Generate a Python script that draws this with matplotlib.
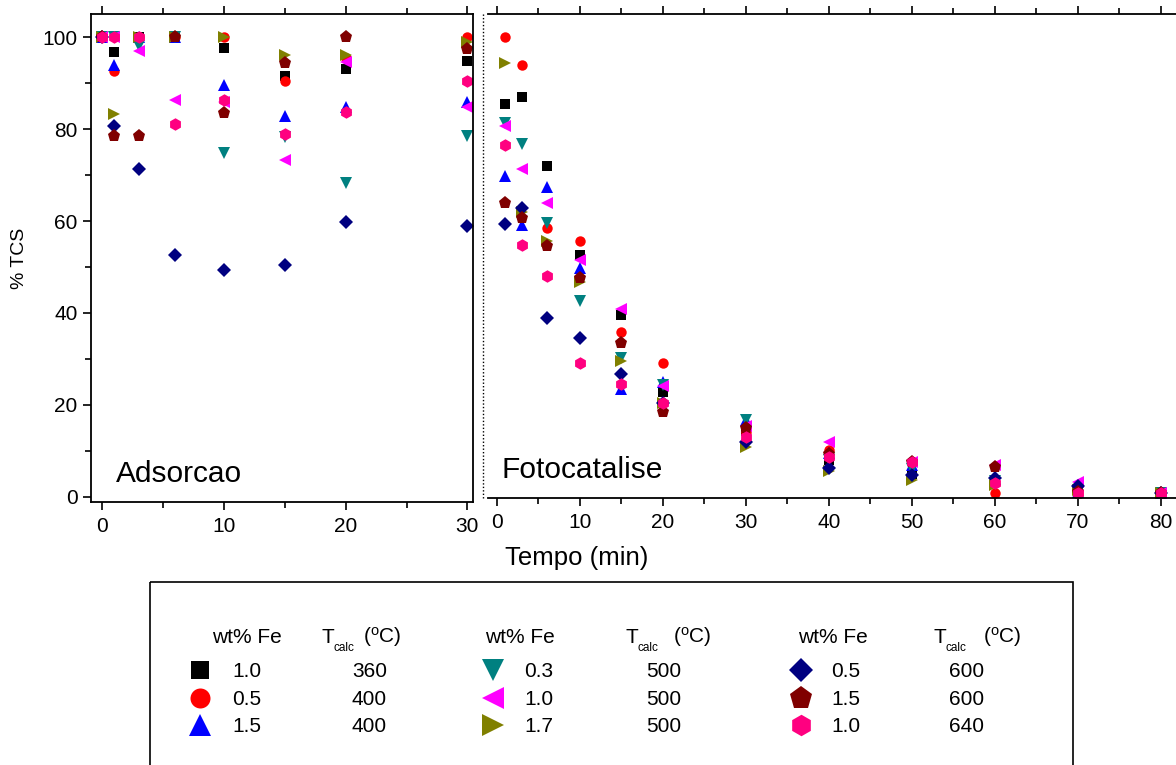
import matplotlib
matplotlib.use("Agg")
import matplotlib.pyplot as plt
from matplotlib.patches import Rectangle
from matplotlib.ticker import MultipleLocator

plt.rcParams["font.family"] = ["Liberation Sans", "DejaVu Sans"]
plt.rcParams["mathtext.fontset"] = "custom"
plt.rcParams["mathtext.rm"] = "Liberation Sans"

# tempos (min)
t_ads = [0, 1, 3, 6, 10, 15, 20, 30]
t_foto = [1, 3, 6, 10, 15, 20, 30, 40, 50, 60, 70, 80]

# amostras: wt% Fe, T calc
wt_fe = ["1.0", "0.5", "1.5", "0.3", "1.0", "1.7", "0.5", "1.5", "1.0"]
t_calc = ["360", "400", "400", "500", "500", "500", "600", "600", "640"]
cores = ["#000000", "#ff0000", "#0000ff", "#008080", "#ff00ff",
         "#808000", "#000080", "#800000", "#ff0080"]
marcadores = ["s", "o", "^", "v", "<", ">", "D", "p", "h"]

# % TCS - adsorcao
ads_1 = [100, 96.8, 100, 100, 97.6, 91.5, 93.2, 94.9]
ads_2 = [100, 92.6, 100, 100, 100, 90.4, 95.5, 100]
ads_3 = [100, 94.0, 100, 100, 89.7, 82.8, 84.8, 85.9]
ads_4 = [100, 100, 98.0, 100, 74.9, 78.3, 68.3, 78.5]
ads_5 = [100, 100, 97.1, 86.4, 86.0, 73.2, 94.6, 84.8]
ads_6 = [100, 83.2, 100, 100, 100, 96.1, 96.1, 98.9]
ads_7 = [100, 80.7, 71.4, 52.6, 49.3, 50.4, 59.9, 58.9]
ads_8 = [100, 78.5, 78.5, 100, 83.6, 94.3, 100, 97.5]
ads_9 = [100, 100, 100, 81.2, 86.4, 79.0, 83.8, 90.4]

# % TCS - fotocatalise
foto_1 = [85.5, 87.1, 71.9, 52.6, 39.6, 22.9, 14.4, 8.0, 5.0, 3.5, 1.5, 0.7]
foto_2 = [100, 94.0, 58.4, 55.7, 35.9, 29.0, 14.0, 10.2, 7.6, 0.7, 0.5, 0.7]
foto_3 = [69.9, 59.2, 67.5, 49.7, 23.5, 25.0, 16.8, 9.5, 6.8, 3.8, 1.0, 0.7]
foto_4 = [81.3, 76.7, 59.5, 42.5, 30.1, 24.3, 16.7, 8.0, 6.0, 3.5, 1.0, 0.7]
foto_5 = [80.7, 71.3, 63.9, 51.6, 40.8, 24.1, 15.3, 12.0, 7.5, 6.8, 3.2, 0.7]
foto_6 = [94.5, 62.0, 55.7, 46.8, 29.6, 20.4, 10.8, 5.5, 3.6, 2.5, 1.5, 0.7]
foto_7 = [59.3, 62.8, 38.8, 34.6, 26.7, 20.4, 12.0, 6.2, 4.7, 4.0, 2.4, 0.7]
foto_8 = [63.9, 60.6, 54.6, 47.7, 33.4, 18.5, 15.0, 9.2, 7.5, 6.4, 1.0, 0.7]
foto_9 = [76.5, 54.7, 48.1, 29.0, 24.5, 20.5, 12.9, 8.7, 7.6, 2.9, 0.7, 0.7]

ads = [ads_1, ads_2, ads_3, ads_4, ads_5, ads_6, ads_7, ads_8, ads_9]
foto = [foto_1, foto_2, foto_3, foto_4, foto_5, foto_6, foto_7, foto_8, foto_9]

# tamanhos dos marcadores (grafico / legenda)
ms_plot = {"s": 7.5, "o": 7.5, "^": 8.5, "v": 8.5, "<": 8.5, ">": 8.5,
           "D": 6.8, "p": 9.5, "h": 9.0}
ms_leg = {"s": 13.5, "o": 14.4, "^": 16.5, "v": 16.5, "<": 16, ">": 16,
          "D": 12.0, "p": 17.0, "h": 15.5}

W, H = 1176, 765
fig = plt.figure(figsize=(W / 100, H / 100), dpi=100)

ax1 = fig.add_axes([90.7 / W, 1 - 502 / H, (472.5 - 90.7) / W, (502 - 14.3) / H])
ax2 = fig.add_axes([488.3 / W, 1 - 498 / H, (1180 - 488.3) / W, (498 - 14.3) / H])

for i in range(9):
    m = marcadores[i]
    ax1.plot(t_ads, ads[i], ls="none", marker=m, ms=ms_plot[m],
             color=cores[i], mew=0)
    ax2.plot(t_foto, foto[i], ls="none", marker=m, ms=ms_plot[m],
             color=cores[i], mew=0)

ax1.set_xlim(-0.95, 30.42)
ax1.set_ylim(-1.15, 105.0)
ax2.set_xlim(-1.01, 82.3)
ax2.set_ylim(-0.28, 105.0)

for ax in (ax1, ax2):
    ax.tick_params(which="both", direction="out", width=1.2, labelsize=15,
                   top=True, right=False)
    ax.tick_params(which="major", length=6)
    ax.tick_params(which="minor", length=4)
    ax.tick_params(axis="x", which="major", pad=5)
    ax.tick_params(axis="x", which="both", labeltop=False)
    for s in ax.spines.values():
        s.set_linewidth(1.3)

ax1.xaxis.set_major_locator(MultipleLocator(10))
ax1.xaxis.set_minor_locator(MultipleLocator(5))
ax1.yaxis.set_major_locator(MultipleLocator(20))
ax1.yaxis.set_minor_locator(MultipleLocator(10))

ax2.xaxis.set_major_locator(MultipleLocator(10))
ax2.xaxis.set_minor_locator(MultipleLocator(5))
ax2.spines["left"].set_visible(False)
ax2.tick_params(axis="y", which="both", left=False, labelleft=False)

ax1.set_ylabel("% TCS", fontsize=14, labelpad=10)

# linha pontilhada entre os dois paineis
fig.add_artist(plt.Line2D([482.7 / W, 482.7 / W], [1 - 498 / H, 1 - 13 / H],
                          color="black", lw=1, ls=(0, (1, 1.5))))

# camada em pixels para textos e legenda
ov = fig.add_axes([0, 0, 1, 1])
ov.set_xlim(0, W)
ov.set_ylim(H, 0)
ov.axis("off")

ov.text(116, 482, "Adsorcao", fontsize=21.5, va="baseline")
ov.text(502, 478, "Fotocatalise", fontsize=21.5, va="baseline")
ov.text(577, 565, "Tempo (min)", fontsize=18.5, ha="center", va="baseline")

ov.add_patch(Rectangle((150, 582), 1073 - 150, 200, fill=False,
                       edgecolor="black", lw=1.2))

grupos = [
    {"head": 212, "T": 322, "calc": 334, "par": 363, "mk": 200, "val": 232, "temp": 352},
    {"head": 485, "T": 625, "calc": 637, "par": 673, "mk": 493, "val": 524, "temp": 646},
    {"head": 798, "T": 933, "calc": 946, "par": 983, "mk": 801, "val": 831, "temp": 949},
]
linhas = [677, 705, 732]

for g, gr in enumerate(grupos):
    ov.text(gr["head"], 643, "wt% Fe", fontsize=15, va="baseline")
    ov.text(gr["T"], 643, "T", fontsize=15, va="baseline")
    ov.text(gr["calc"], 651, "calc", fontsize=8.5, va="baseline")
    ov.text(gr["par"], 643, r"($\mathregular{^{o}}$C)", fontsize=15, va="baseline")
    for r in range(3):
        i = g * 3 + r
        m = marcadores[i]
        ov.plot([gr["mk"]], [linhas[r] - 7.5], ls="none", marker=m,
                ms=ms_leg[m], color=cores[i], mew=0)
        ov.text(gr["val"], linhas[r], wt_fe[i], fontsize=15, va="baseline")
        ov.text(gr["temp"], linhas[r], t_calc[i], fontsize=15, va="baseline")

fig.savefig("out.png", dpi=100)
